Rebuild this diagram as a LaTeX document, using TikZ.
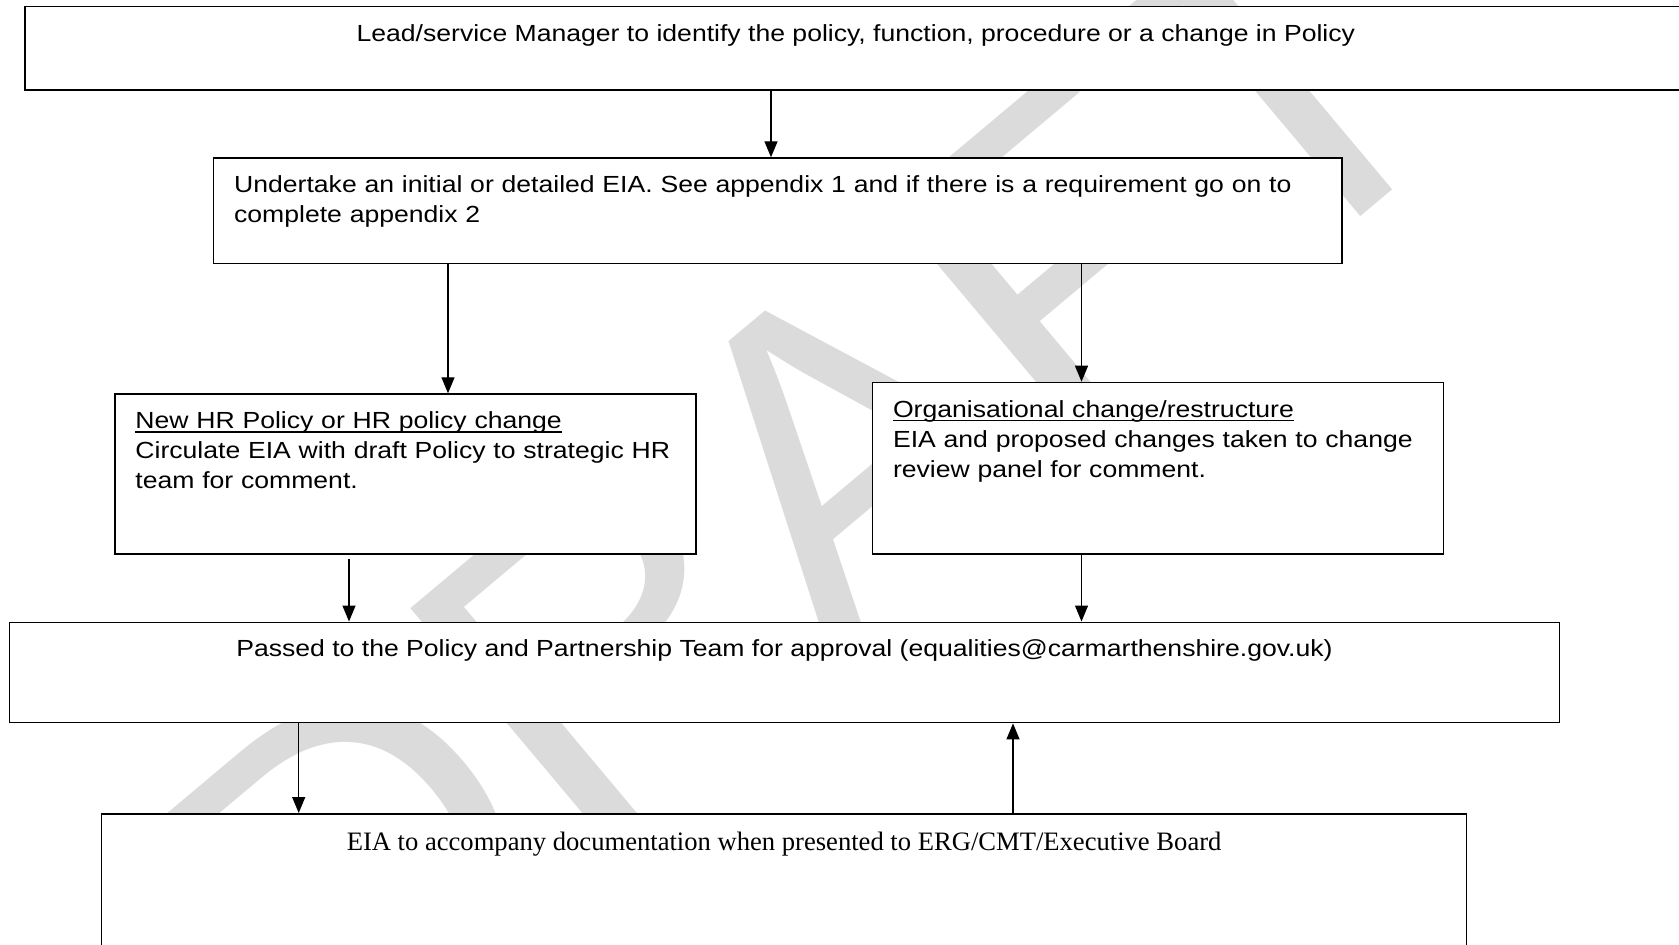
\documentclass[tikz,border=0pt]{standalone}
\usepackage{fontspec}
\setmainfont{Liberation Serif}
\newfontfamily\boxfont[FakeStretch=1.14]{Liberation Sans}
\newfontfamily\markfont{Liberation Sans}
\usetikzlibrary{arrows.meta}

\newcommand{\undl}[1]{\setbox0=\hbox{#1}\rlap{\rule[-2pt]{\wd0}{0.65pt}}\box0}

\tikzset{
  flowbox/.style={draw, fill=white, line width=0.85pt, anchor=north west,
    inner xsep=10.3pt, inner ysep=0pt, align=left,
    font=\boxfont\fontsize{11.66pt}{15pt}\selectfont},
  arr/.style={-{Triangle[length=8pt,width=6.5pt]}, line width=0.65pt},
}

\begin{document}
\begin{tikzpicture}[x=0.5pt,y=-0.5pt]
\useasboundingbox (0,0) rectangle (1679,945);
% watermark behind the boxes
\node[text=black!14, font=\markfont\fontsize{225pt}{225pt}\selectfont, rotate=40] (draft) at (808,478) {DRAFT};

% boxes
\node[flowbox, minimum width=831pt, text height=17.5pt, text depth=24.3pt] (lead) at (24,5.7)
  {Lead/service Manager to identify the policy, function, procedure or a change in Policy};
\node[flowbox, text width=543.6pt, text height=17.2pt, text depth=35.5pt] (eia) at (212.7,157.3)
  {\begin{tabular}[t]{@{}l@{}}Undertake an initial or detailed EIA. See appendix 1 and if there is a requirement go on to\\
   complete appendix 2\end{tabular}};
\node[flowbox, text width=269.9pt, text height=17.2pt, text depth=62.9pt] (hr) at (114,393.3)
  {\begin{tabular}[t]{@{}l@{}}\undl{New HR Policy or HR policy change}\\
   Circulate EIA with draft Policy to strategic HR\\
   team for comment.\end{tabular}};
\node[flowbox, text width=264.9pt, text height=17.3pt, text depth=68.5pt] (org) at (871.6,381.7)
  {\begin{tabular}[t]{@{}l@{}}\undl{Organisational change/restructure}\\
   EIA and proposed changes taken to change\\
   review panel for comment.\end{tabular}};
\node[flowbox, minimum width=775pt, text height=17.2pt, text depth=32.9pt] (pass) at (8.6,621.5)
  {Passed to the Policy and Partnership Team for approval (equalities@carmarthenshire.gov.uk)};
\node[flowbox, minimum width=682.5pt, text height=18.4pt, text depth=80pt,
  font=\rmfamily\fontsize{13.3pt}{15pt}\selectfont] (board) at (100.7,813)
  {EIA to accompany documentation when presented to ERG/CMT/Executive Board};

% arrow columns
\coordinate (xa) at (771,0);
\coordinate (xb) at (448,0);
\coordinate (xc) at (1081.5,0);
\coordinate (xd) at (349,0);
\coordinate (xe) at (298.7,0);
\coordinate (xf) at (1013,0);

\draw[arr] (lead.south -| xa) -- (eia.north -| xa);
\draw[arr] (eia.south -| xb) -- (hr.north -| xb);
\draw[arr] (eia.south -| xc) -- (org.north -| xc);
\draw[arr] ([yshift=-1.75pt]hr.south -| xd) -- (pass.north -| xd);
\draw[arr] (org.south -| xc) -- (pass.north -| xc);
\draw[arr] (pass.south -| xe) -- (board.north -| xe);
\draw[arr] (board.north -| xf) -- (pass.south -| xf);
\end{tikzpicture}
\end{document}
